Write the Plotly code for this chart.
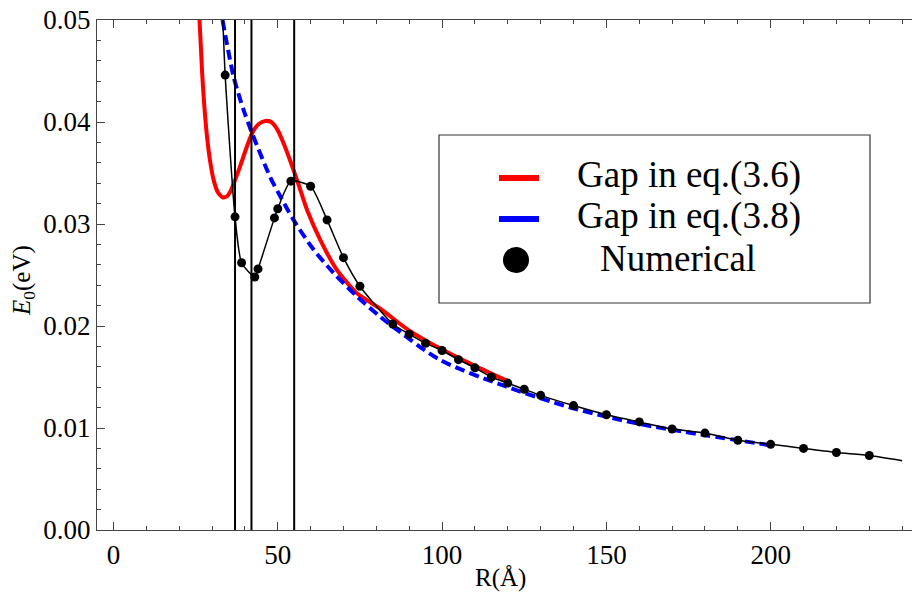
import plotly.graph_objects as go

# ---------------- data ----------------
# Numerical points
num_R = [34, 37, 39, 43, 44, 49, 50, 54, 60, 65, 70, 75, 85, 90, 95, 100, 105,
         110, 115, 120, 125, 130, 140, 150, 160, 170, 180, 190, 200, 210, 220, 230]
num_E = [0.0446, 0.0307, 0.0262, 0.0248, 0.0256, 0.0306, 0.0315, 0.0342, 0.0337,
         0.0304, 0.0267, 0.0239, 0.0202, 0.0192, 0.0183, 0.0176, 0.0167, 0.0159,
         0.0150, 0.0144, 0.0138, 0.0132, 0.0122, 0.0113, 0.0106, 0.0099, 0.0095,
         0.0088, 0.0084, 0.0080, 0.0076, 0.0073]
# ends of the thin black curve through the numerical points
curve_start_R, curve_start_E = 33.3, 0.0500
curve_end_R, curve_end_E = 240.0, 0.0068

# Gap in eq.(3.6)  (red)
red_R = [26.2, 27.0, 27.6, 28.5, 29.4, 30.5, 31.8, 33.3, 34.5, 35.6, 37.0, 38.6, 40.4,
         42.2, 44.2, 46.2, 48.0, 49.8, 51.8, 53.8, 56.3, 58.9, 63.0, 68.0, 74.1,
         81.2, 89.8, 100.0, 110.0, 120.0]
red_E = [0.0500, 0.0448, 0.0418, 0.0385, 0.0362, 0.0343, 0.0331, 0.0326, 0.0327,
         0.0332, 0.0343, 0.0357, 0.0374, 0.0389, 0.0398, 0.0401, 0.0400, 0.0393,
         0.0379, 0.0362, 0.0339, 0.0314, 0.0284, 0.0255, 0.0232, 0.0217, 0.0196,
         0.0177, 0.0161, 0.0146]

# Gap in eq.(3.8)  (blue dashed)
blue_R = [33.2, 36.6, 39.6, 42.2, 47.7, 50.8, 54.8, 60.9, 67.0, 74.1, 81.2, 85.2,
          99.4, 119.6, 139.9, 160.0, 180.0, 200.0]
blue_E = [0.0500, 0.0444, 0.0412, 0.0389, 0.0346, 0.0327, 0.0304, 0.0275, 0.0252,
          0.0229, 0.0209, 0.0199, 0.01667, 0.01405, 0.01193, 0.0104, 0.0093, 0.0083]

# vertical marker lines
vline_R = [37, 42, 55]

x_tick_vals = [0, 50, 100, 150, 200]
y_tick_vals = [0.00, 0.01, 0.02, 0.03, 0.04, 0.05]
y_tick_text = ["0.00", "0.01", "0.02", "0.03", "0.04", "0.05"]

legend_labels = ["Gap in eq.(3.6)", "Gap in eq.(3.8)", "Numerical"]

# ---------------- figure ----------------
W, H = 912, 596
L, R_, T, B = 97, 0, 20, 66
pw, ph = W - L - R_, H - T - B

def px(xp):
    return (xp - L) / pw

def py(yp):
    return (H - B - yp) / ph

SERIF = "Liberation Serif"

fig = go.Figure()

fig.add_trace(go.Scatter(
    x=red_R, y=red_E, mode="lines", line=dict(color="#ff0000", width=4, shape="spline", smoothing=0.6),
    name=legend_labels[0], showlegend=False, hoverinfo="skip"))
fig.add_trace(go.Scatter(
    x=blue_R, y=blue_E, mode="lines",
    line=dict(color="#0000ff", width=4, dash="10px,5px", shape="spline", smoothing=0.8),
    name=legend_labels[1], showlegend=False, hoverinfo="skip"))
fig.add_trace(go.Scatter(
    x=[curve_start_R] + num_R + [curve_end_R], y=[curve_start_E] + num_E + [curve_end_E],
    mode="lines", line=dict(color="black", width=1.5, shape="spline", smoothing=0.6),
    showlegend=False, hoverinfo="skip"))
fig.add_trace(go.Scatter(
    x=num_R, y=num_E, mode="markers", marker=dict(color="black", size=9),
    name=legend_labels[2], showlegend=False))

shapes = []
for r in vline_R:
    shapes.append(dict(type="line", xref="x", yref="paper", x0=r, x1=r, y0=0, y1=1,
                       line=dict(color="black", width=2), layer="above"))

# legend box
shapes.append(dict(type="rect", xref="paper", yref="paper",
                   x0=px(439), x1=px(870), y0=py(303), y1=py(135),
                   line=dict(color="#333333", width=1.2), fillcolor="white", layer="above"))
shapes.append(dict(type="line", xref="paper", yref="paper", x0=px(499), x1=px(539),
                   y0=py(178), y1=py(178), line=dict(color="#ff0000", width=6), layer="above"))
shapes.append(dict(type="line", xref="paper", yref="paper", x0=px(499), x1=px(539),
                   y0=py(219), y1=py(219), line=dict(color="#0000ff", width=6), layer="above"))
shapes.append(dict(type="circle", xref="paper", yref="paper", x0=px(503), x1=px(529),
                   y0=py(273), y1=py(247), line=dict(color="black", width=0),
                   fillcolor="black", layer="above"))

annotations = [
    dict(text=legend_labels[0], xref="paper", yref="paper", x=px(575), y=py(175),
         xanchor="left", yanchor="middle", showarrow=False, font=dict(family=SERIF, size=37, color="black")),
    dict(text=legend_labels[1], xref="paper", yref="paper", x=px(575), y=py(216),
         xanchor="left", yanchor="middle", showarrow=False, font=dict(family=SERIF, size=37, color="black")),
    dict(text=legend_labels[2], xref="paper", yref="paper", x=px(598), y=py(258),
         xanchor="left", yanchor="middle", showarrow=False, font=dict(family=SERIF, size=37, color="black")),
    dict(text="R(Å)", xref="paper", yref="paper", x=px(500), y=py(578),
         xanchor="center", yanchor="middle", showarrow=False, font=dict(family=SERIF, size=25, color="black")),
    dict(text="<i>E</i><sub>0</sub>(eV)", xref="paper", yref="paper", x=px(23), y=py(281),
         xanchor="center", yanchor="middle", textangle=-90, showarrow=False,
         font=dict(family=SERIF, size=25, color="black")),
]

fig.update_layout(
    width=W, height=H,
    margin=dict(l=L, r=R_, t=T, b=B, pad=0),
    paper_bgcolor="white", plot_bgcolor="white",
    showlegend=False,
    font=dict(family=SERIF, size=27, color="black"),
    shapes=shapes, annotations=annotations,
    xaxis=dict(range=[-5, 243], tickvals=x_tick_vals, ticks="inside", ticklen=8, tickwidth=1,
               tickcolor="#444", showline=True, linecolor="#444", linewidth=1.2, mirror="ticks",
               showgrid=False, zeroline=False,
               minor=dict(dtick=10, tick0=0, ticks="inside", ticklen=4, tickcolor="#444", showgrid=False),
               tickfont=dict(family=SERIF, size=27, color="black")),
    yaxis=dict(range=[0, 0.05], tickvals=y_tick_vals, ticktext=y_tick_text, ticks="inside", ticklen=8,
               tickwidth=1, tickcolor="#444", showline=True, linecolor="#444", linewidth=1.2,
               mirror=False, showgrid=False, zeroline=False,
               minor=dict(dtick=0.002, tick0=0, ticks="inside", ticklen=4, tickcolor="#444", showgrid=False),
               tickfont=dict(family=SERIF, size=27, color="black")),
)

fig.write_html("out.html")
